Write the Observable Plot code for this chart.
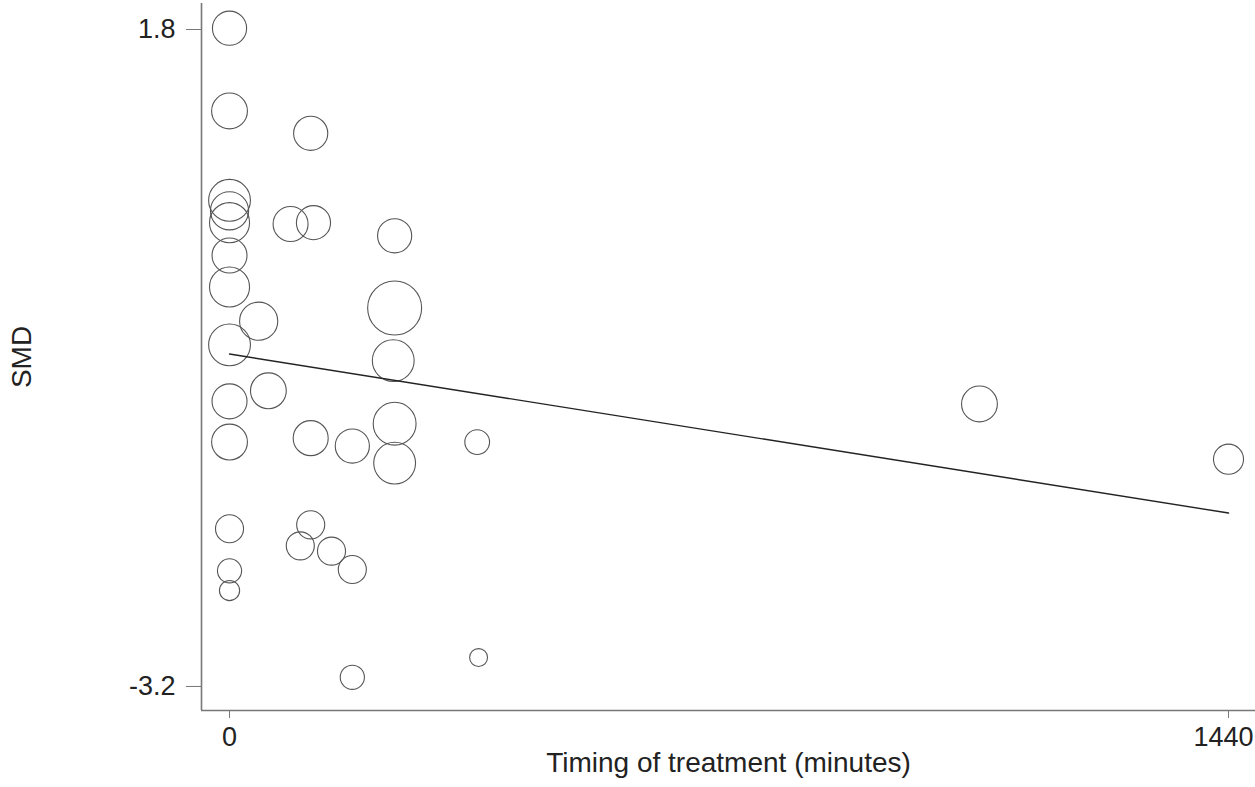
<!DOCTYPE html>
<html>
<head>
<meta charset="utf-8">
<script src="https://cdn.jsdelivr.net/npm/d3@7"></script>
<script src="https://cdn.jsdelivr.net/npm/@observablehq/plot@0.6"></script>
<style>
  html, body { margin: 0; padding: 0; background: #fff; }
  #chart svg { display: block; }
</style>
</head>
<body>
<div id="chart"></div>
<script>
// Study timing (minutes), SMD and relative weight (bubble size)
const timing = [0, 0, 117, 0, 0, 0, 88, 121, 238, 0, 0, 42, 238, 0, 236, 56, 0, 1081,
                0, 117, 177, 238, 238, 357, 1440, 0, 117, 102, 147, 177, 0, 0, 359, 177];
const smd    = [1.81, 1.18, 1.01, 0.50, 0.42, 0.33, 0.32, 0.33, 0.23, 0.08, -0.16, -0.42, -0.32, -0.60, -0.72, -0.95, -1.03, -1.05,
                -1.34, -1.31, -1.37, -1.20, -1.50, -1.34, -1.47, -2.00, -1.97, -2.13, -2.17, -2.31, -2.32, -2.47, -2.98, -3.13];
const weight = [40, 44, 40, 60, 50, 55, 42, 40, 40, 42, 55, 50, 100, 60, 60, 44, 42, 44,
                44, 42, 40, 63, 60, 21, 31, 27, 27, 27, 27, 27, 20, 14, 11, 20];

// Fitted meta-regression line (end points)
const fitTiming = [0, 1440];
const fitSMD = [-0.67, -1.88];

const xTicks = [0, 1440];
const yTicks = [-3.2, 1.8];
const xDomain = [-40.4, 1478.9];
const yDomain = [-3.383, 1.998];

const studies = timing.map((t, i) => ({t, smd: smd[i], w: weight[i]}));
const fit = fitTiming.map((t, i) => ({t, smd: fitSMD[i]}));

const font = "'Liberation Sans', Arial, Helvetica, sans-serif";

const chart = Plot.plot({
  width: 1255,
  height: 787,
  marginLeft: 201,
  marginRight: 0,
  marginTop: 3,
  marginBottom: 77,
  style: {fontFamily: font, fontSize: "27px", color: "#222", background: "#fff"},
  x: {domain: xDomain, ticks: xTicks, tickSize: 8, tickPadding: 8, label: null, tickFormat: d => String(d)},
  y: {domain: yDomain, ticks: yTicks, tickSize: 15, tickPadding: 11, label: null, tickFormat: d => String(d)},
  r: {type: "sqrt", domain: [0, 100], range: [0, 27]},
  marks: [
    Plot.ruleX([xDomain[0]], {stroke: "#777", strokeWidth: 1.6}),
    Plot.ruleY([yDomain[0]], {stroke: "#777", strokeWidth: 1.6}),
    Plot.dot(studies, {x: "t", y: "smd", r: "w", stroke: "#555", strokeWidth: 1.1, fill: "none"}),
    Plot.line(fit, {x: "t", y: "smd", stroke: "#222", strokeWidth: 1.4}),
    Plot.text(["SMD"], {frameAnchor: "left", dx: -179, rotate: -90, lineAnchor: "middle", textAnchor: "middle", fontSize: 28, fill: "#222"}),
    Plot.text(["Timing of treatment (minutes)"], {frameAnchor: "bottom", dy: 61, lineAnchor: "bottom", textAnchor: "middle", fontSize: 28, fill: "#222"})
  ]
});
chart.querySelectorAll("[aria-label='x-axis tick'] path, [aria-label='y-axis tick'] path").forEach(p => p.setAttribute("stroke", "#777"));
chart.querySelectorAll("[aria-label='x-axis tick label'] text").forEach(t => {
  if (t.textContent === "1440") t.setAttribute("dx", "-5");
});
document.getElementById("chart").appendChild(chart);
</script>
</body>
</html>
